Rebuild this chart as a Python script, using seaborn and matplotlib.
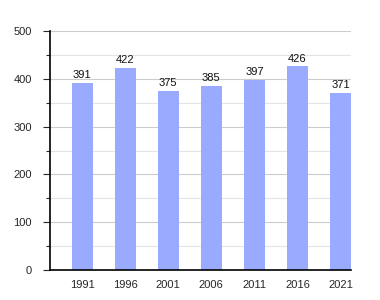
import matplotlib
matplotlib.use("Agg")
import matplotlib.pyplot as plt
import seaborn as sns
import pandas as pd
from matplotlib.ticker import MultipleLocator

years = ["1991", "1996", "2001", "2006", "2011", "2016", "2021"]
population = [391, 422, 375, 385, 397, 426, 371]

sns.set_style("white")
plt.rcParams['font.family'] = ['Liberation Sans', 'DejaVu Sans']

df = pd.DataFrame({"year": years, "pop": population})

fig = plt.figure(figsize=(3.8, 3.0), dpi=100)
ax = fig.add_axes([50/380, 0.1, (351-50)/380, (270-31)/300])

sns.barplot(data=df, x="year", y="pop", color="#99aaff", saturation=1,
            width=0.49, ax=ax, linewidth=0, edgecolor="none", zorder=2)

for p, v in zip(ax.patches, population):
    ax.text(p.get_x() + p.get_width()/2, v + 6, str(v), ha="center", va="bottom",
            fontsize=8, color="#111111", zorder=4)

ax.set_ylim(0, 500)
ax.set_xlim(-0.745, 6.245)
ax.yaxis.set_major_locator(MultipleLocator(100))
ax.yaxis.set_minor_locator(MultipleLocator(50))
ax.grid(axis="y", which="major", color="#cccccc", linewidth=0.8, zorder=0)
ax.grid(axis="y", which="minor", color="#e4e4e4", linewidth=0.8, zorder=0)
ax.set_axisbelow(True)
for s in ["top", "right"]:
    ax.spines[s].set_visible(False)
ax.spines["left"].set_color("black")
ax.spines["bottom"].set_color("black")
ax.spines["left"].set_linewidth(1.2)
ax.spines["bottom"].set_linewidth(1.2)
ax.spines["left"].set_zorder(5)
ax.spines["bottom"].set_zorder(5)
ax.tick_params(axis="y", which="major", left=True, length=5, width=0.8, labelsize=8, pad=8)
ax.tick_params(axis="y", which="minor", left=True, length=3, width=0.8)
ax.tick_params(axis="x", bottom=False, labelsize=8, pad=4)
ax.set_xlabel("")
ax.set_ylabel("")

fig.savefig("out.png", dpi=100)
